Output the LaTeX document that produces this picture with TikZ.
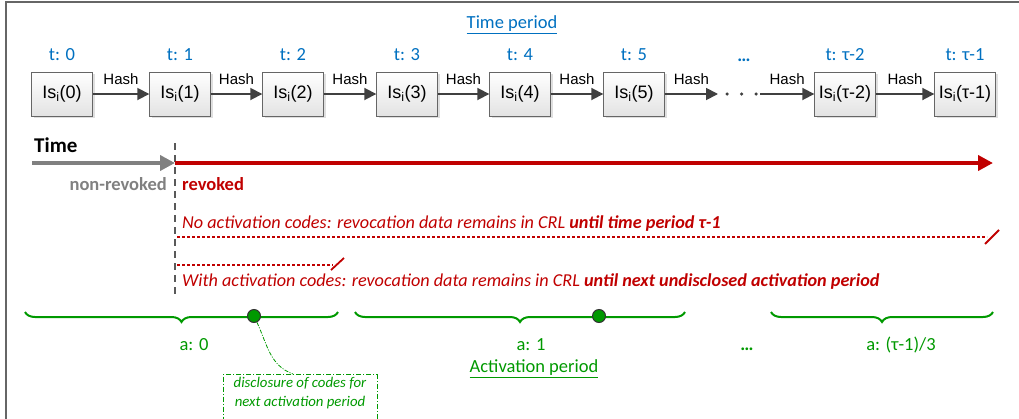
\documentclass[tikz,border=0pt]{standalone}
\usepackage{fontspec}
\setmainfont{Carlito}
\newfontfamily\arialfont{Liberation Sans}
\usetikzlibrary{arrows.meta,shadows,decorations.pathreplacing}
\definecolor{tblue}{RGB}{0,112,192}
\definecolor{rred}{RGB}{192,0,0}
\definecolor{agreen}{RGB}{0,153,0}
\tikzset{
	keybox/.style={draw=gray!80!black, top color=white, bottom color=gray!22, minimum width=61pt, minimum height=44pt, inner sep=0pt,
		font=\arialfont\fontsize{18}{20}\selectfont, drop shadow={opacity=.25, shadow xshift=2pt, shadow yshift=-2pt}},
	tlabel/.style={text=tblue, font=\fontsize{18.5}{21}\selectfont},
	hash/.style={draw=black!75, line width=1.8pt, -{Triangle[length=12pt,width=12pt]}},
	hashlabel/.style={font=\arialfont\fontsize{15}{17}\selectfont, inner sep=1pt},
	alabel/.style={text=agreen, font=\fontsize{18.5}{21}\selectfont},
	actbrace/.style={draw=agreen, line width=2pt, decorate, decoration={brace, mirror, amplitude=10pt}},
	actdot/.style={circle, fill=agreen, draw=black!80, line width=1pt, minimum size=13pt, inner sep=0pt},
	crlline/.style={draw=rred, line width=1.5pt, dash pattern=on 3pt off 2pt},
	crlend/.style={draw=rred, line width=1.8pt},
	redtext/.style={text=rred, font=\fontsize{18.2}{21}\selectfont\itshape, anchor=west, inner sep=0pt},
}
\begin{document}
\begin{tikzpicture}[x=1pt,y=-1pt]
	\useasboundingbox (0,0) rectangle (1019,418);
	\clip (0,0) rectangle (1019,418);
	\draw[line width=2pt, black!60] (6,420)--(6,2)--(1021,2);
	% time periods
	\node[tlabel] (tp) at (512,25) {\underline{Time period}};
	\node[keybox] (k0) at (62,94) {Is\textsubscript{i}(0)};
	\node[keybox] (k1) at (180,94) {Is\textsubscript{i}(1)};
	\node[keybox] (k2) at (293,94) {Is\textsubscript{i}(2)};
	\node[keybox] (k3) at (407,94) {Is\textsubscript{i}(3)};
	\node[keybox] (k4) at (520,94) {Is\textsubscript{i}(4)};
	\node[keybox] (k5) at (634,94) {Is\textsubscript{i}(5)};
	\node[keybox] (k8) at (845,94) {Is\textsubscript{i}(τ-2)};
	\node[keybox] (k9) at (965,94) {Is\textsubscript{i}(τ-1)};
	\node[tlabel] (t0) at (62,55) {t: 0};
	\node[tlabel] (t1) at (180,55) {t: 1};
	\node[tlabel] (t2) at (293,55) {t: 2};
	\node[tlabel] (t3) at (407,55) {t: 3};
	\node[tlabel] (t4) at (520,55) {t: 4};
	\node[tlabel] (t5) at (634,55) {t: 5};
	\node[tlabel] (tdots) at (744,60) {\textbf{…}};
	\node[tlabel] (t8) at (845,55) {t: τ-2};
	\node[tlabel] (t9) at (965,55) {t: τ-1};
	\coordinate (g1) at (718,94);
	\coordinate (g2) at (760,94);
	\draw[hash] (k0)--(k1) node[hashlabel,midway,above=7pt]{Hash};
	\draw[hash] (k1)--(k2) node[hashlabel,midway,above=7pt]{Hash};
	\draw[hash] (k2)--(k3) node[hashlabel,midway,above=7pt]{Hash};
	\draw[hash] (k3)--(k4) node[hashlabel,midway,above=7pt]{Hash};
	\draw[hash] (k4)--(k5) node[hashlabel,midway,above=7pt]{Hash};
	\draw[hash] (k5)--(g1) node[hashlabel,midway,above=7pt]{Hash};
	\draw[black!75, line width=3.5pt, line cap=round, dash pattern=on 0pt off 14.5pt] (727,94)--(756,94);
	\draw[hash] (g2)--(k8) node[hashlabel,midway,above=7pt]{Hash};
	\draw[hash] (k8)--(k9) node[hashlabel,midway,above=7pt]{Hash};
	% revocation
	\coordinate (rv) at (175,163);
	\coordinate (tstart) at (32,163);
	\coordinate (tend) at (993,163);
	\node[font=\fontsize{21}{23}\selectfont\bfseries, anchor=west, inner sep=0pt] (time) at (34,145) {Time};
	\draw[black!65, line width=1.5pt, dash pattern=on 7pt off 5pt] (175,143)--(175,298);
	\draw[gray, line width=4pt, -{Triangle[length=15pt,width=15pt]}] (tstart)--(rv);
	\draw[rred, line width=4pt, -{Triangle[length=15pt,width=15pt]}] (rv)--(tend);
	\node[text=gray, font=\fontsize{18.5}{21}\selectfont\bfseries, anchor=east, inner sep=0pt] (nrv) at (167,184) {non-revoked};
	\node[text=rred, font=\fontsize{18.5}{21}\selectfont\bfseries, anchor=west, inner sep=0pt] (rvk) at (182,184) {revoked};
	\node[redtext] (noact) at (182,224) {No activation codes: revocation data remains in CRL \textbf{until time period τ-1}};
	\draw[crlline] (177,237)--(987,237);
	\draw[crlend] (985,244)--(999,230);
	\draw[crlline] (177,265)--(333,265);
	\draw[crlend] (331,270)--(344,258);
	\node[redtext] (withact) at (182,282) {With activation codes: revocation data remains in CRL \textbf{until next undisclosed activation period}};
	% activation periods
	\draw[actbrace] (25,312)--(338,312);
	\draw[actbrace] (355,312)--(685,312);
	\draw[actbrace] (771,312)--(993,312);
	\node[actdot] (d0) at (254,316) {};
	\node[actdot] (d1) at (599,316) {};
	\node[alabel] (a0) at (194,345) {a: 0};
	\node[alabel] (a1) at (531,345) {a: 1};
	\node[alabel] (adots) at (747,349) {\textbf{…}};
	\node[alabel] (a9) at (901,345) {a: (τ-1)/3};
	\node[alabel] (ap) at (534,369) {\underline{Activation period}};
	\node[draw=agreen, line width=1pt, dash pattern=on 5pt off 2pt on 1pt off 2pt, anchor=north, minimum width=154pt, minimum height=60pt] (note) at (300,374) {};
	\node[text=agreen, font=\fontsize{14.8}{19}\selectfont\itshape, align=center] (notetxt) at (300,393.5) {disclosure of codes for\\next activation period};
	\coordinate (notetop) at (293,374);
	\draw[agreen, line width=.8pt, dash pattern=on 4pt off 1.5pt on 1pt off 1.5pt] (d0) to[out=-65,in=160] (notetop);
\end{tikzpicture}
\end{document}
